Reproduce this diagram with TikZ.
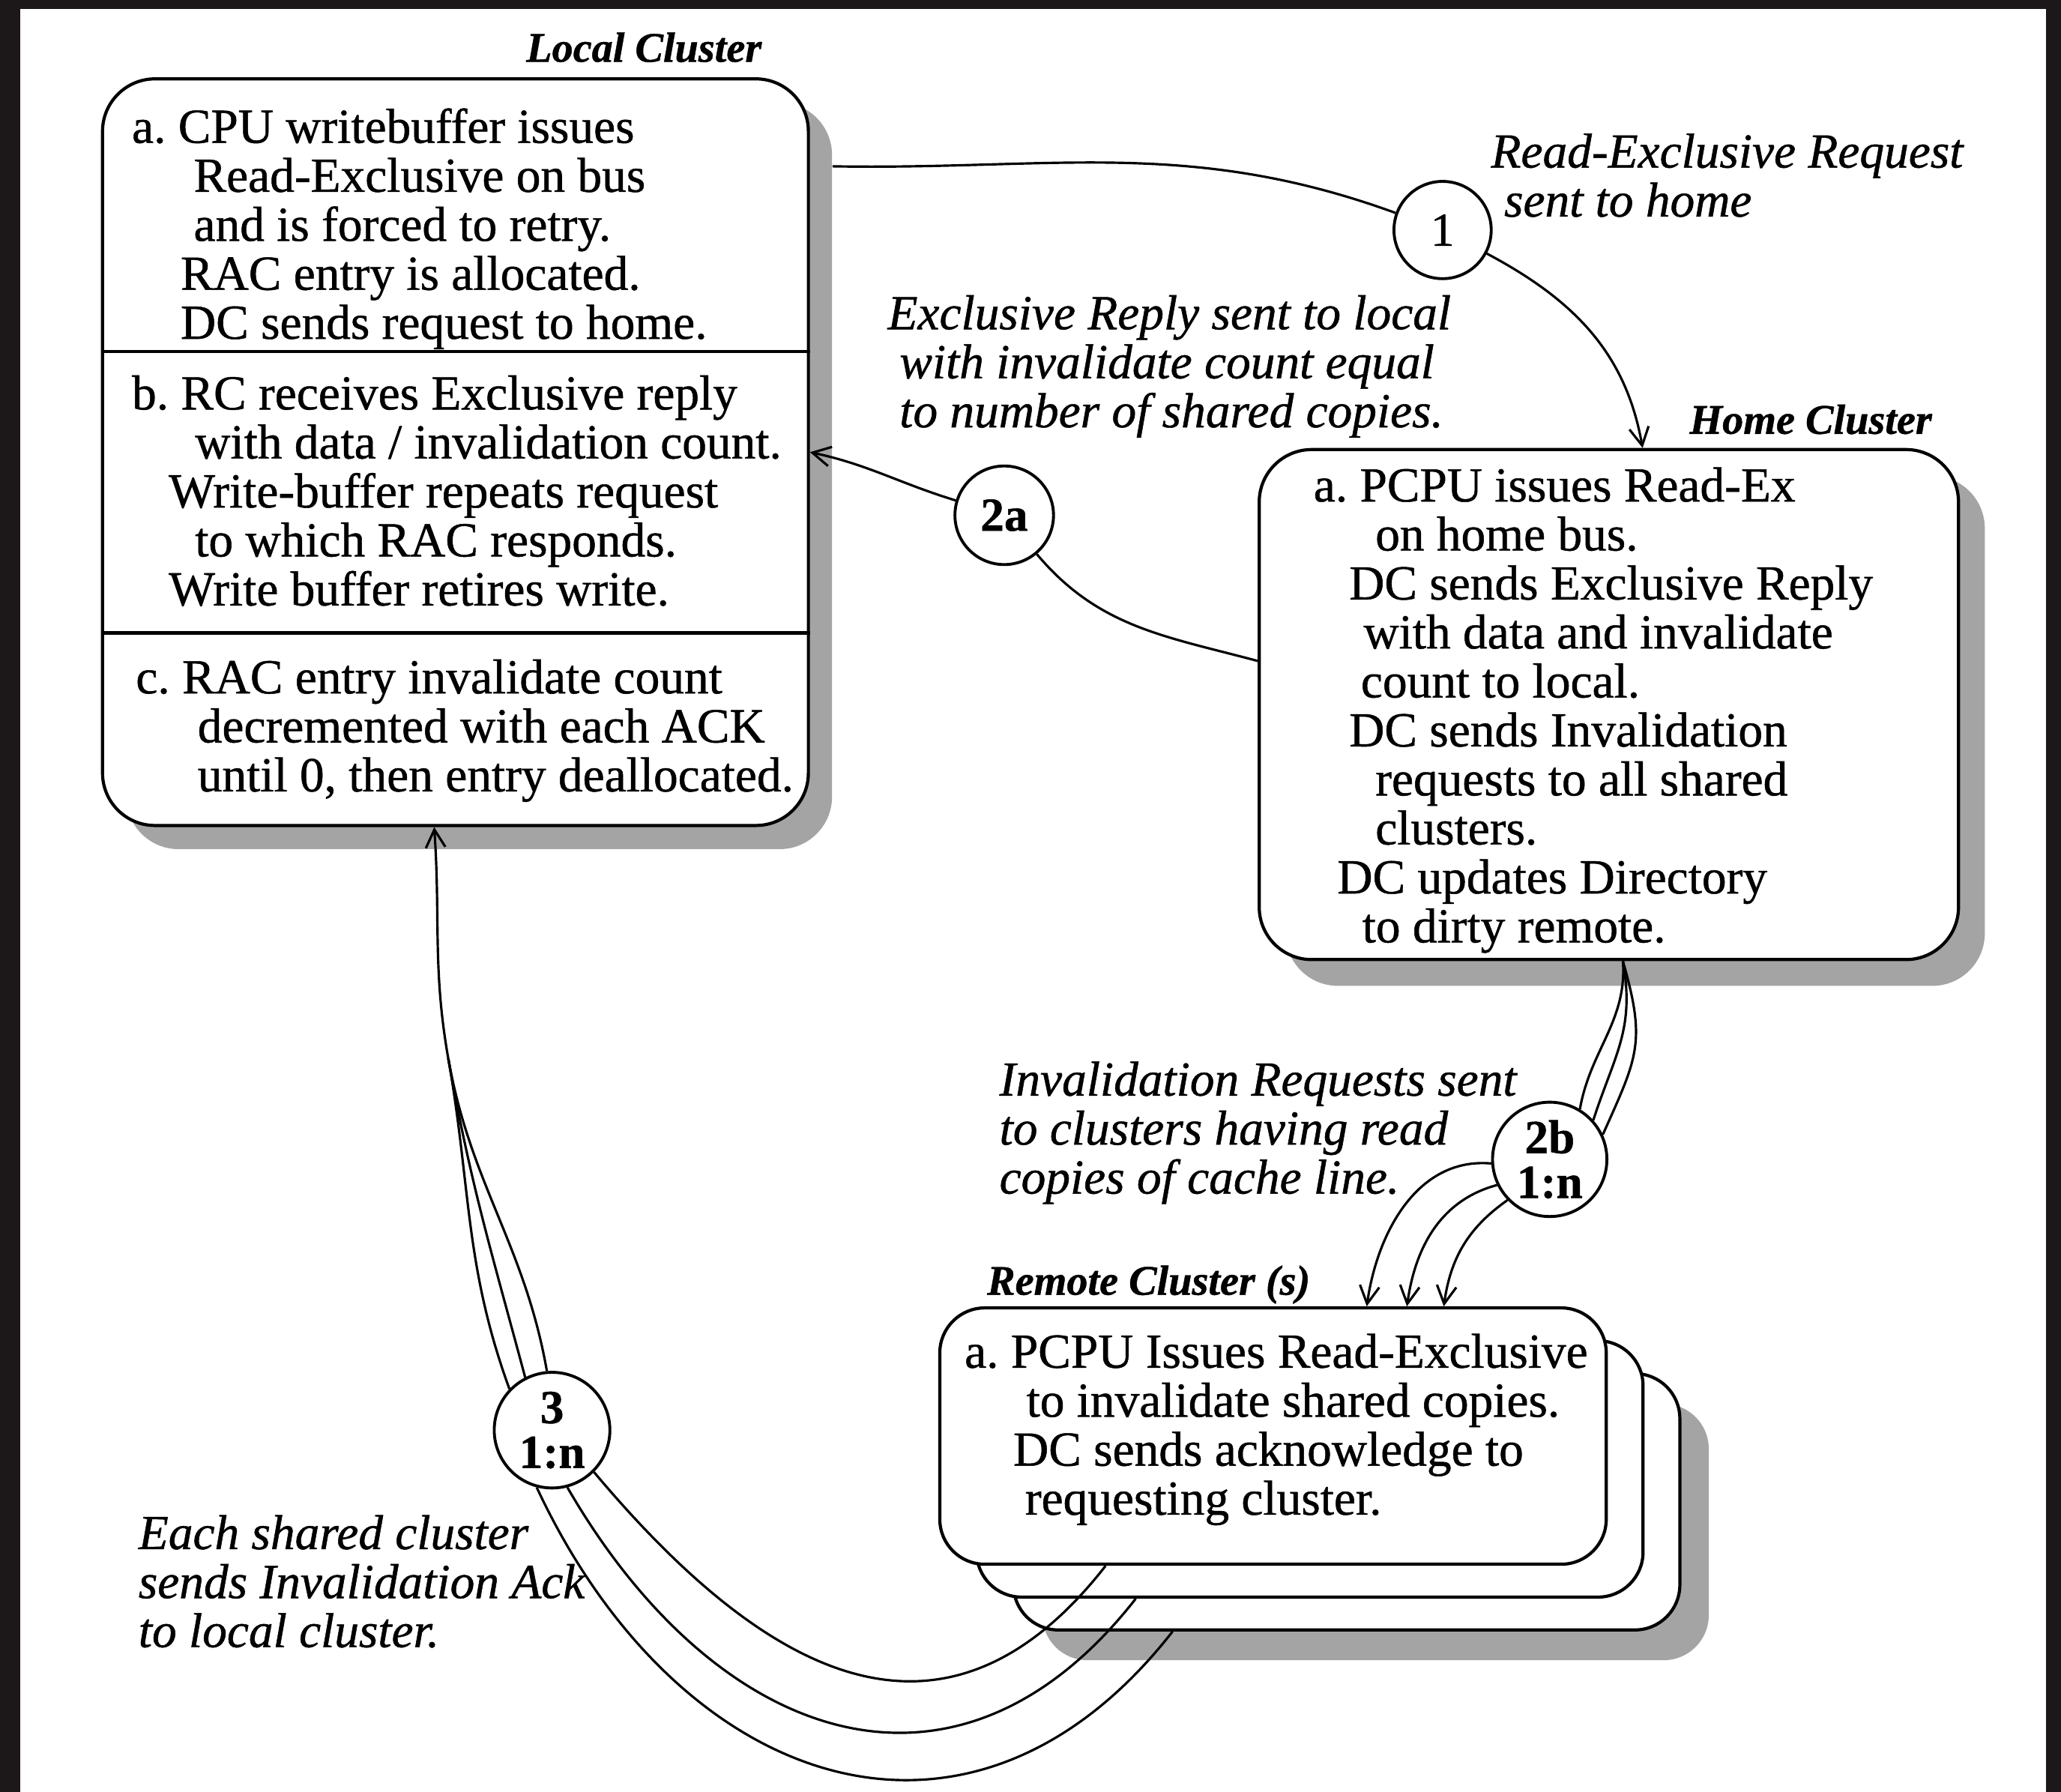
\documentclass[tikz,border=0pt]{standalone}
\usepackage{fontspec}
\setmainfont{Liberation Serif}[FakeBold=0.8]
\usetikzlibrary{arrows.meta, calc}
\definecolor{frame}{HTML}{1C1819}
\definecolor{shade}{HTML}{A4A4A4}
\newcommand{\px}{0.1754mm}
\newcommand{\ind}[1]{\hspace*{#1\dimexpr\px\relax}}
\newcommand{\bodyfont}{\fontsize{18.6}{18.6}\selectfont\frenchspacing}
\newcommand{\tagfont}{\fontsize{16}{16}\selectfont\bfseries\itshape}
\tikzset{
  cluster/.style={rectangle, draw=black, fill=white, line width=1.2pt, rounded corners=7mm, inner sep=0pt},
  drop/.style={rectangle, fill=shade, rounded corners=7mm, inner sep=0pt},
  txt/.style={anchor=north west, inner sep=0pt, align=left, font=\bodyfont},
  note/.style={txt, font=\bodyfont\itshape},
  tag/.style={anchor=base west, inner sep=0pt, font=\tagfont},
  stepnum/.style={circle, draw=black, fill=white, line width=1.1pt, inner sep=0pt, align=center, font=\fontsize{18}{17}\selectfont},
  link/.style={line width=0.9pt},
  arr/.style={link, -{Straight Barb[length=2.4mm, width=2.6mm]}},
}

\begin{document}
\begin{tikzpicture}[x=\px, y=\px]
  \useasboundingbox (0,0) rectangle (1568,-1363);
  \fill[frame] (0,0) rectangle (1568,-1363);
  \fill[white] (15.4,-6.8) rectangle (1556.5,-1363);
  % local cluster
  \node[drop, minimum width=537*\px, minimum height=568*\px] (localsh) at (364.5,-362) {};
  \node[cluster, minimum width=537*\px, minimum height=568*\px] (local) at (346.5,-344) {};
  \draw[line width=1.2pt] ($(local.north west)!.366!(local.south west)$) -- ($(local.north east)!.366!(local.south east)$);
  \draw[line width=1.2pt] ($(local.north west)!.741!(local.south west)$) -- ($(local.north east)!.741!(local.south east)$);
  \node[tag] (localtag) at (400,-47) {Local Cluster};
  \node[txt] (locala) at (100,-82) {\strut a. CPU writebuffer issues\\ \ind{47}Read-Exclusive on bus\\ \ind{47}and is forced to retry.\\ \ind{37}RAC entry is allocated.\\ \ind{37}DC sends request to home.};
  \node[txt] (localb) at (100,-285) {\strut b. RC receives Exclusive reply\\ \ind{48}with data / invalidation count.\\ \ind{28}Write-buffer repeats request\\ \ind{48}to which RAC responds.\\ \ind{28}Write buffer retires write.};
  \node[txt] (localc) at (103,-501) {\strut c. RAC entry invalidate count\\ \ind{47}decremented with each ACK\\ \ind{47}until 0, then entry deallocated.};
  % home cluster
  \node[drop, minimum width=532*\px, minimum height=388*\px] (homesh) at (1244,-556) {};
  \node[cluster, minimum width=532*\px, minimum height=388*\px] (home) at (1224,-536) {};
  \node[tag] (hometag) at (1285,-330) {Home Cluster};
  \node[txt] (homea) at (999,-355) {\strut a. PCPU issues Read-Ex\\ \ind{47}on home bus.\\ \ind{27}DC sends Exclusive Reply\\ \ind{38}with data and invalidate\\ \ind{36}count to local.\\ \ind{27}DC sends Invalidation\\ \ind{47}requests to all shared\\ \ind{47}clusters.\\ \ind{18}DC updates Directory\\ \ind{37}to dirty remote.};
  % remote clusters
  \node[drop, rounded corners=6mm, minimum width=507*\px, minimum height=195*\px] (remotesh) at (1046.5,-1165.5) {};
  \node[cluster, rounded corners=6mm, minimum width=507*\px, minimum height=195*\px] (remotec) at (1024.5,-1142.5) {};
  \node[cluster, rounded corners=6mm, minimum width=507*\px, minimum height=195*\px] (remoteb) at (996.5,-1117.5) {};
  \node[cluster, rounded corners=6mm, minimum width=507*\px, minimum height=195*\px] (remotea) at (968.5,-1092.5) {};
  \node[tag] (remotetag) at (750.6,-985) {Remote Cluster (s)};
  \node[txt] (remotetxt) at (733.5,-1014) {\strut a. PCPU Issues Read-Exclusive\\ \ind{47}to invalidate shared copies.\\ \ind{37}DC sends acknowledge to\\ \ind{46}requesting cluster.};
  % notes
  \node[note] (note1) at (1134,-101) {\strut Read-Exclusive Request\\ \ind{10}sent to home};
  \node[note] (note2a) at (675,-224) {\strut Exclusive Reply sent to local\\ \ind{9}with invalidate count equal\\ \ind{9}to number of shared copies.};
  \node[note] (note2b) at (760,-807) {\strut Invalidation Requests sent\\ to clusters having read\\ copies of cache line.};
  \node[note] (note3) at (105,-1152) {\strut Each shared cluster\\ sends Invalidation Ack\\ to local cluster.};
  % steps
  \node[stepnum, minimum size=74*\px] (c1) at (1097.5,-175) {1};
  \node[stepnum, minimum size=75*\px, font=\fontsize{18}{17}\selectfont\bfseries] (c2a) at (764,-392) {2a};
  \node[stepnum, minimum size=87*\px, font=\fontsize{18}{17}\selectfont\bfseries] (c2b) at (1179,-882) {2b\\1:n};
  \node[stepnum, minimum size=88*\px, font=\fontsize{18}{17}\selectfont\bfseries] (c3) at (420,-1088) {3\\1:n};
  \coordinate (hs) at ($(home.south west)!.52!(home.south east)$);
  \coordinate (lb) at ($(local.south west)!.47!(local.south east)$);
  \coordinate (m3) at (341,-805);
  \coordinate (ra1) at ($(remotea.north west)!.64!(remotea.north east)$);
  \coordinate (ra2) at ($(remotea.north west)!.70!(remotea.north east)$);
  \coordinate (ra3) at ($(remotea.north west)!.755!(remotea.north east)$);
  \coordinate (ras) at ($(remotea.south west)!.25!(remotea.south east)$);
  \coordinate (rbs) at ($(remoteb.south west)!.24!(remoteb.south east)$);
  \coordinate (rcs) at ($(remotec.south west)!.24!(remotec.south east)$);
  % step 1
  \draw[link] ($(localsh.north east)!.086!(localsh.south east)$) to[out=-1, in=160] (c1);
  \draw[arr] (c1) to[out=-28, in=100] ($(home.north west)!.548!(home.north east)$);
  % step 2a
  \draw[link] ($(home.north west)!.415!(home.south west)$) to[out=165, in=-50] (c2a);
  \draw[arr] (c2a) to[out=163, in=-12] ($(local.north east)!.5!(local.south east)$);
  % step 2b
  \draw[link] (hs) to[out=-74, in=66, looseness=1.25] (c2b.25);
  \draw[link] (hs) to[out=-80, in=72, looseness=1.1] (c2b.42);
  \draw[link] (hs) to[out=-86, in=80] (c2b.59);
  \draw[arr] (c2b.184) to[out=175, in=82] (ra1);
  \draw[arr] (c2b.206) to[out=195, in=82] (ra2);
  \draw[arr] (c2b.224) to[out=215, in=82] (ra3);
  % step 3
  \draw[link] (ras) to[out=232, in=-50, looseness=1.3] (c3.-45);
  \draw[link] (rbs) to[out=232, in=-60, looseness=1.3] (c3.-75);
  \draw[link] (rcs) to[out=232, in=-65, looseness=1.3] (c3.-105);
  \draw[link] (c3.136) to[out=110, in=-80] (m3);
  \draw[link] (c3.117) to[out=105, in=-80] (m3);
  \draw[link] (c3.95) to[out=100, in=-80] (m3);
  \draw[arr] (m3) to[out=100, in=-86] (lb);
\end{tikzpicture}
\end{document}
